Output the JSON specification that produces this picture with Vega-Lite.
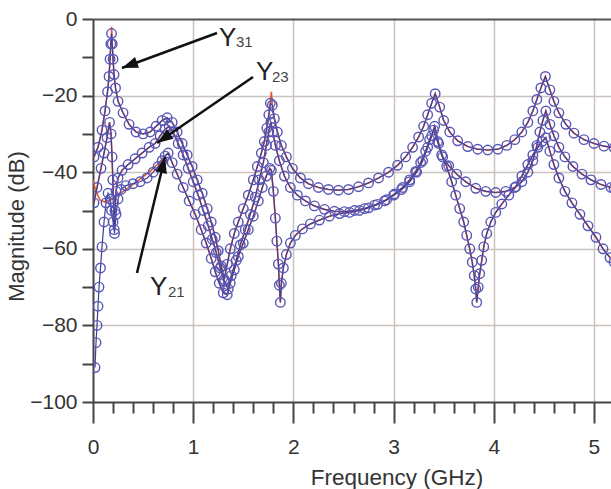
{
  "$schema": "https://vega.github.io/schema/vega-lite/v6.json",
  "width": 518,
  "height": 383,
  "autosize": {"type": "none"},
  "padding": {"left": 93, "top": 19, "right": 0, "bottom": 87},
  "background": "#ffffff",
  "config": {"view": {"stroke": null}, "font": "Liberation Sans"},
  "datasets": {
    "curves": [
      {"c": "31", "k": "m",
       "f": [0.01,0.05,0.09,0.12,0.145,0.16,0.17,0.178,0.185,0.192,0.2,0.21,0.225,0.25,0.3,0.36,0.43,0.5,0.57,0.63,0.69,0.74,0.79,0.84,0.89,0.94,0.99,1.04,1.09,1.14,1.18,1.22,1.25,1.28,1.31,1.34,1.37,1.41,1.45,1.5,1.55,1.6,1.64,1.68,1.71,1.735,1.755,1.77,1.79,1.81,1.84,1.88,1.93,1.99,2.07,2.15,2.25,2.35,2.45,2.55,2.65,2.75,2.85,2.95,3.04,3.12,3.19,3.25,3.3,3.34,3.38,3.415,3.46,3.5,3.56,3.64,3.74,3.84,3.94,4.04,4.13,4.21,4.28,4.34,4.39,4.43,4.47,4.515,4.56,4.6,4.65,4.72,4.8,4.9,5.0,5.1,5.2],
       "db": [-36,-33.5,-29,-24,-19,-15,-10.5,-6.5,-3.8,-6.5,-10.5,-14.5,-18,-21.5,-24.5,-27.5,-29.5,-30,-29.5,-28,-26.5,-25.8,-27,-29.5,-32.5,-35.5,-38.5,-42,-45.5,-49.5,-53,-57,-60.5,-64.5,-68,-64,-60,-56,-53,-49.5,-46,-42,-38.5,-35,-32,-28.5,-25,-22,-22.5,-26,-29.5,-33,-36,-39,-41.5,-43,-44,-44.5,-44.7,-44.5,-43.8,-42.8,-41.5,-40,-38.2,-36,-33.5,-30.8,-28,-25,-22,-19.5,-23,-26.5,-29.5,-31.8,-33.3,-34,-34.2,-34,-33,-31.5,-29.5,-27,-24,-21,-18,-15,-18.5,-21.5,-24.5,-27.5,-29.8,-31.5,-32.5,-33.2,-33.6]},
      {"c": "31", "k": "r", "f": [0.186,1.78], "db": [-2,-19]},
      {"c": "23", "k": "m",
       "f": [0.01,0.04,0.08,0.11,0.14,0.165,0.18,0.19,0.198,0.205,0.212,0.22,0.23,0.25,0.29,0.35,0.42,0.49,0.56,0.62,0.67,0.72,0.76,0.8,0.85,0.9,0.95,1.0,1.05,1.1,1.15,1.19,1.23,1.27,1.31,1.35,1.38,1.43,1.47,1.52,1.57,1.62,1.66,1.7,1.73,1.755,1.775,1.795,1.82,1.86,1.91,1.97,2.04,2.12,2.21,2.31,2.41,2.51,2.61,2.71,2.81,2.91,3.0,3.08,3.16,3.23,3.29,3.34,3.38,3.41,3.45,3.49,3.55,3.63,3.72,3.82,3.92,4.02,4.12,4.21,4.28,4.34,4.39,4.43,4.46,4.49,4.52,4.56,4.6,4.65,4.71,4.79,4.88,4.97,5.07,5.17,5.2],
       "db": [-48,-44,-39,-35,-31,-27,-30,-36,-42,-48,-55,-50,-45,-41.5,-39.5,-38,-36.5,-35,-33.5,-32.5,-30.5,-28.8,-28,-29.5,-32.5,-35.5,-39,-42.5,-46,-50,-54,-57.5,-61,-65,-68.5,-70.5,-67,-63,-59,-55,-51,-46.5,-42,-37.5,-33,-29.5,-27,-29.5,-33,-37,-41,-44,-46,-47.5,-48.8,-49.7,-50.2,-50.3,-50,-49.5,-48.6,-47.5,-46,-44.5,-42.5,-40,-37,-33.5,-30.5,-28,-32.5,-36,-38.3,-40.5,-42.5,-44.2,-45,-45.3,-45,-44,-42.5,-40,-37,-33,-29.5,-26.5,-24,-27.5,-30.5,-33.5,-36,-38.5,-40.5,-42,-43.2,-44,-44.2]},
      {"c": "21", "k": "b",
       "f": [0.02,0.03,0.04,0.05,0.06,0.075,0.09,0.11,0.13,0.15,0.17,0.185,0.2,0.215,0.23,0.25,0.28,0.33,0.4,0.47,0.54,0.6,0.65,0.69,0.72],
       "db": [-91,-84.5,-80,-75,-70,-65,-59.5,-53,-48,-45.5,-47,-50,-53,-56,-51,-47,-44.5,-43.5,-43,-42.5,-41.5,-40,-38.5,-37,-35.8]},
      {"c": "21", "k": "r",
       "f": [0,0.03,0.07,0.12,0.18,0.25,0.33,0.42,0.5,0.58,0.65,0.7],
       "db": [-42,-45,-47.3,-47.8,-47.2,-46,-44.5,-42.8,-41.2,-39.5,-37.8,-36.3]},
      {"c": "21", "k": "m",
       "f": [0.75,0.79,0.84,0.9,0.96,1.02,1.08,1.13,1.18,1.22,1.26,1.3,1.34,1.37,1.41,1.45,1.5,1.55,1.6,1.65,1.69,1.73,1.765,1.78,1.8,1.82,1.835,1.85,1.86,1.87,1.88,1.9,1.93,1.97,2.02,2.09,2.17,2.26,2.36,2.46,2.56,2.66,2.75,2.84,2.93,3.01,3.09,3.16,3.22,3.27,3.32,3.36,3.4,3.44,3.48,3.53,3.58,3.62,3.66,3.7,3.73,3.76,3.785,3.805,3.82,3.83,3.845,3.86,3.88,3.9,3.93,3.97,4.02,4.08,4.15,4.22,4.28,4.34,4.39,4.44,4.48,4.52,4.56,4.6,4.65,4.71,4.78,4.86,4.94,5.02,5.09,5.16,5.2],
       "db": [-35,-37.5,-40.5,-44,-47.5,-51,-55,-58.5,-62.5,-66,-69,-71.5,-72,-69,-65.5,-62,-58.5,-55,-51.5,-47.5,-44,-41,-39,-39.5,-45,-52,-58,-64,-69.5,-74,-69,-65,-61.5,-58.5,-56.5,-54.8,-53.5,-52.5,-51.5,-50.8,-50.5,-50,-49.3,-48.4,-47.2,-45.7,-44,-42,-39.8,-37.5,-34.5,-31.5,-29,-32,-35.5,-38.5,-42.5,-46,-49.5,-53,-56.5,-60,-63.5,-67,-70.5,-74,-70,-66.5,-63,-59.5,-56,-53,-50.5,-48.3,-46,-43.8,-41,-38,-35.5,-33.5,-32,-31,-34.5,-38,-41.5,-45,-48,-51,-54,-57,-60,-62.3,-63.5]}
    ],
    "arrows": [
      {"f": 0.2894, "db": -12.79, "f2": 1.2375, "db2": -3.66},
      {"f": 0.6387, "db": -32.38, "f2": 1.597, "db2": -15.14},
      {"f": 0.7186, "db": -36.03, "f2": 0.439, "db2": -66.32}
    ],
    "notes": [
      {"t": "Y", "s": "main", "f": 1.2575, "db": -6.97},
      {"t": "31", "s": "sub", "f": 1.427, "db": -7.23},
      {"t": "Y", "s": "main", "f": 1.627, "db": -15.93},
      {"t": "23", "s": "sub", "f": 1.786, "db": -16.37},
      {"t": "Y", "s": "main", "f": 0.569, "db": -72.06},
      {"t": "21", "s": "sub", "f": 0.7485, "db": -72.58}
    ]
  },
  "encoding": {
    "x": {
      "field": "f", "type": "quantitative",
      "scale": {"domain": [0, 5.17], "nice": false, "zero": false},
      "axis": {
        "title": "Frequency (GHz)",
        "values": [0,0.2,0.4,0.6,0.8,1,1.2,1.4,1.6,1.8,2,2.2,2.4,2.6,2.8,3,3.2,3.4,3.6,3.8,4,4.2,4.4,4.6,4.8,5],
        "labelExpr": "abs(datum.value - round(datum.value)) < 0.001 ? '' + round(datum.value) : ''",
        "labelFlush": false, "labelOverlap": false, "labelBound": false,
        "labelFontSize": 21, "labelColor": "#333333", "labelPadding": 13,
        "tickSize": {"condition": {"test": "abs(datum.value - round(datum.value)) < 0.001", "value": 21}, "value": 11},
        "tickColor": "#444444", "tickWidth": 2,
        "domainColor": "#444444", "domainWidth": 2,
        "grid": true,
        "gridColor": "#cbc2bd", "gridWidth": 1.5,
        "gridOpacity": {"condition": {"test": "abs(datum.value - round(datum.value)) < 0.001 && datum.value > 0", "value": 1}, "value": 0},
        "titleFontSize": 22.5, "titleFontWeight": "normal", "titleColor": "#333333",
        "titleX": 303.5, "titleY": 82, "titleBaseline": "alphabetic", "titleAlign": "center"
      }
    },
    "y": {
      "field": "db", "type": "quantitative",
      "scale": {"domain": [-100, 0], "nice": false, "zero": false},
      "axis": {
        "title": "Magnitude (dB)",
        "values": [-100,-90,-80,-70,-60,-50,-40,-30,-20,-10,0],
        "format": "d",
        "labelExpr": "datum.value % 20 == 0 ? datum.label : ''",
        "labelOverlap": false, "labelBound": false, "labelFlush": false,
        "labelFontSize": 21, "labelColor": "#333333", "labelPadding": 5,
        "tickSize": 11, "tickColor": "#444444", "tickWidth": 2,
        "domainColor": "#444444", "domainWidth": 2,
        "grid": true,
        "gridColor": {"condition": {"test": "datum.value == 0", "value": "#555555"}, "value": "#cbc2bd"},
        "gridWidth": {"condition": {"test": "datum.value == 0", "value": 2}, "value": 1.5},
        "gridOpacity": {"condition": {"test": "datum.value % 20 == 0 && datum.value > -100", "value": 1}, "value": 0},
        "titleFontSize": 22, "titleFontWeight": "normal", "titleColor": "#333333",
        "titleX": -70, "titleY": 207, "titleBaseline": "alphabetic", "titleAlign": "center", "titleAngle": -90
      }
    }
  },
  "layer": [
    {
      "data": {"name": "curves"},
      "transform": [{"flatten": ["f", "db"]}, {"filter": "datum.k != 'b'"}],
      "mark": {"type": "line", "color": "#e8582c", "strokeWidth": 1.6, "clip": true},
      "encoding": {"detail": {"field": "c"}}
    },
    {
      "data": {"name": "curves"},
      "transform": [{"flatten": ["f", "db"]}, {"filter": "datum.k != 'r'"}],
      "mark": {"type": "line", "color": "#3d3d99", "strokeWidth": 1.2, "clip": true},
      "encoding": {"detail": {"field": "c"}}
    },
    {
      "data": {"name": "curves"},
      "transform": [{"flatten": ["f", "db"]}, {"filter": "datum.k != 'r'"}],
      "mark": {"type": "point", "shape": "circle", "filled": false, "stroke": "#5656b6", "strokeWidth": 1.4, "size": 90, "opacity": 1, "clip": true}
    },
    {
      "data": {"name": "arrows"},
      "mark": {"type": "rule", "color": "#111111", "strokeWidth": 2.5},
      "encoding": {"x2": {"field": "f2"}, "y2": {"field": "db2"}}
    },
    {
      "data": {"name": "arrows"},
      "transform": [{"calculate": "atan2((datum.f - datum.f2) * 100.2, (datum.db - datum.db2) * 3.83) * 180 / PI", "as": "ang"}],
      "mark": {"type": "point", "shape": "M0,0L-0.36,1L0.36,1Z", "filled": true, "color": "#111111", "size": 1024, "opacity": 1},
      "encoding": {"angle": {"field": "ang", "type": "quantitative", "scale": null}}
    },
    {
      "data": {"name": "notes"},
      "transform": [{"filter": "datum.s == 'main'"}],
      "mark": {"type": "text", "align": "left", "baseline": "alphabetic", "fontSize": 26, "color": "#222222"},
      "encoding": {"text": {"field": "t"}}
    },
    {
      "data": {"name": "notes"},
      "transform": [{"filter": "datum.s == 'sub'"}],
      "mark": {"type": "text", "align": "left", "baseline": "alphabetic", "fontSize": 15, "color": "#444444"},
      "encoding": {"text": {"field": "t"}}
    }
  ]
}
